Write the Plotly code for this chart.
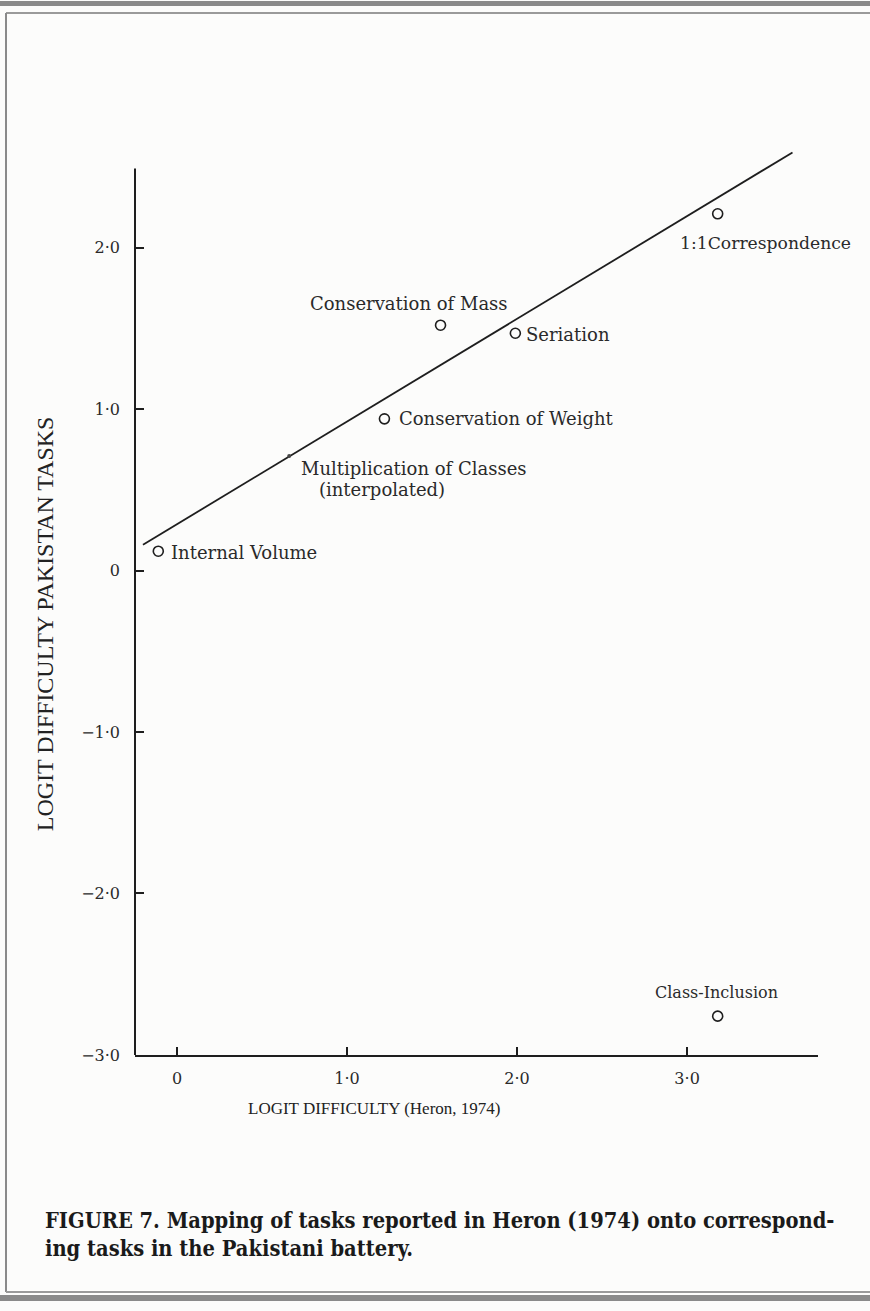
import plotly.graph_objects as go

# Logit difficulties: Heron (1974) tasks vs. the Pakistani battery
task_names = ["1:1Correspondence", "Conservation of Mass", "Seriation",
              "Conservation of Weight", "Internal Volume", "Class-Inclusion"]
heron_logit = [3.18, 1.55, 1.99, 1.22, -0.11, 3.18]
pakistan_logit = [2.21, 1.52, 1.47, 0.94, 0.12, -2.76]

# Interpolated task lying on the fitted line
interp_name = ["Multiplication of Classes", "(interpolated)"]
interp_x = [0.66]
interp_y = [0.71]

# Fitted line end points
fit_x = [-0.20, 3.62]
fit_y = [0.16, 2.59]

x_tickvals = [0, 1, 2, 3]
x_ticktext = ["0", "1·0", "2·0", "3·0"]
y_tickvals = [2, 1, 0, -1, -2, -3]
y_ticktext = ["2·0", "1·0", "0", "−1·0", "−2·0", "−3·0"]

W, H = 870, 1311
INK = "#1e1e1e"
SERIF = "Liberation Serif, Times New Roman, serif"
WIDE_SERIF = "DejaVu Serif, serif"
CAPTION_FONT = "DejaVu Serif Condensed, Liberation Serif, serif"


def py(p):
    """Pixel row -> paper fraction."""
    return 1 - p / H


def px(p):
    return p / W


fig = go.Figure()

fig.add_trace(go.Scatter(x=fit_x, y=fit_y, mode="lines",
                         line=dict(color=INK, width=1.8),
                         hoverinfo="skip", showlegend=False))

fig.add_trace(go.Scatter(x=heron_logit, y=pakistan_logit, mode="markers",
                         marker=dict(symbol="circle-open", size=10,
                                     color=INK, line=dict(width=1.6)),
                         text=task_names, showlegend=False))

fig.add_trace(go.Scatter(x=interp_x, y=interp_y, mode="markers",
                         marker=dict(symbol="circle", size=4, color="#444"),
                         showlegend=False))

# Task labels: (name, x, y, xshift, yshift, xanchor, size)
label_specs = [
    (task_names[0], heron_logit[0], pakistan_logit[0], -40, -29, "left", 17.2),
    (task_names[1], heron_logit[1], pakistan_logit[1], -32, 22, "center", 18),
    (task_names[2], heron_logit[2], pakistan_logit[2], 9, -1, "left", 18),
    (task_names[3], heron_logit[3], pakistan_logit[3], 13, 0, "left", 18),
    (task_names[4], heron_logit[4], pakistan_logit[4], 11, -1, "left", 18),
    (task_names[5], heron_logit[5], pakistan_logit[5], -1, 24, "center", 16),
    (interp_name[0], interp_x[0], interp_y[0], 10, -13, "left", 18),
    (interp_name[1], interp_x[0], interp_y[0], 28, -34, "left", 18),
]
for name, x, y, dx, dy, anchor, size in label_specs:
    fig.add_annotation(x=x, y=y, text=name, showarrow=False,
                       xshift=dx, yshift=dy, xanchor=anchor, yanchor="middle",
                       font=dict(family=WIDE_SERIF, size=size, color="#2a2a2a"))

# Axis titles
fig.add_annotation(xref="paper", yref="paper", x=px(374), y=py(1117),
                   text="LOGIT DIFFICULTY (Heron, 1974)", showarrow=False,
                   xanchor="center", yanchor="middle",
                   font=dict(family=SERIF, size=17, color="#222"))
fig.add_annotation(xref="paper", yref="paper", x=px(45), y=py(629),
                   text="LOGIT DIFFICULTY PAKISTAN TASKS", showarrow=False,
                   textangle=-90, xanchor="center", yanchor="middle",
                   font=dict(family=SERIF, size=24, color="#222"))

# Caption
fig.add_annotation(xref="paper", yref="paper", x=px(43), y=py(1244),
                   text="FIGURE 7. Mapping of tasks reported in Heron (1974) onto correspond-"
                        "<br>ing tasks in the Pakistani battery.",
                   showarrow=False, xanchor="left", yanchor="middle", align="left",
                   font=dict(family=CAPTION_FONT, size=21.7, color="#1a1a1a", weight="bold"))

# Vertical axis rule stops at the top of the scale
fig.add_shape(type="line", xref="paper", yref="y",
              x0=px(135), x1=px(135), y0=-3.0, y1=2.49,
              line=dict(color=INK, width=2))

# Page frame rules
frame = [
    dict(type="rect", x0=0, x1=1, y0=py(6), y1=py(1), fillcolor="#8a8a8a", line_width=0),
    dict(type="line", x0=px(6), x1=1, y0=py(13), y1=py(13), line=dict(color="#9a9a9a", width=2)),
    dict(type="line", x0=px(6), x1=px(6), y0=py(13), y1=py(1302), line=dict(color="#8a8a8a", width=2)),
    dict(type="line", x0=px(6), x1=1, y0=py(1302), y1=py(1302), line=dict(color="#9a9a9a", width=2)),
    dict(type="rect", x0=0, x1=1, y0=0, y1=py(1305), fillcolor="#8a8a8a", line_width=0),
]
for s in frame:
    s.update(xref="paper", yref="paper", layer="above")
    fig.add_shape(**s)

fig.update_layout(
    width=W, height=H,
    margin=dict(l=0, r=0, t=0, b=0),
    paper_bgcolor="#fcfcfb", plot_bgcolor="#fcfcfb",
    font=dict(family=SERIF, color=INK),
    xaxis=dict(domain=[px(135), px(818)], range=[-0.247, 3.77],
               tickvals=x_tickvals, ticktext=x_ticktext,
               ticks="inside", ticklen=8, tickwidth=1.5, tickcolor=INK,
               showline=True, linecolor=INK, linewidth=2,
               showgrid=False, zeroline=False, ticklabelstandoff=8,
               tickfont=dict(family=WIDE_SERIF, size=16, color="#2a2a2a")),
    yaxis=dict(domain=[py(1063), py(152)], range=[-3.0, 2.60],
               tickvals=y_tickvals, ticktext=y_ticktext,
               ticks="inside", ticklen=9, tickwidth=1.5, tickcolor=INK,
               showline=False,
               showgrid=False, zeroline=False, ticklabelstandoff=14,
               tickfont=dict(family=WIDE_SERIF, size=16, color="#2a2a2a")),
)

fig.write_html("out.html")
